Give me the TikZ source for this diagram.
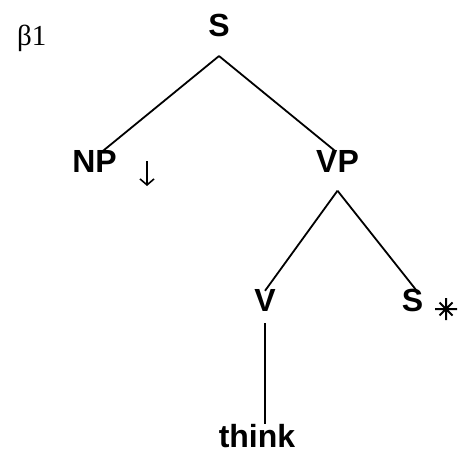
\documentclass[tikz,border=0pt]{standalone}
\usepackage{fontspec}
\setmainfont{Liberation Serif}
\newfontfamily\labfont{Liberation Sans}
\usetikzlibrary{arrows.meta}
\begin{document}
\begin{tikzpicture}[x=1pt,y=-1pt,
  lab/.style={inner sep=0pt, font=\labfont\fontsize{32}{36}\selectfont\bfseries},
  edge/.style={line width=1.8pt, line join=round}]
\useasboundingbox (0,0) rectangle (462,457);
\node[anchor=base west, inner sep=0pt, font=\fontsize{29}{33}\selectfont] (beta) at (17,46) {β1};
\node[lab] (S) at (219,25.5) {S};
\node[lab] (NP) at (94.5,161.5) {NP};
\node[lab] (VP) at (337.5,161.5) {VP};
\node[lab] (V) at (265,300) {V};
\node[lab] (S2) at (412.5,300) {S};
\node[lab] (think) at (257,436.5) {think};
\coordinate (sj) at ([yshift=-19pt]S.south);
\coordinate (vpj) at ([yshift=-18pt]VP.south);
\draw[edge] (sj) -- ([xshift=8pt,yshift=-1pt]NP.north);
\draw[edge] (sj) -- ([xshift=-2pt,yshift=-1pt]VP.north);
\draw[edge] (vpj) -- ([yshift=-2pt]V.north);
\draw[edge] (vpj) -- ([xshift=4pt,yshift=-2pt]S2.north);
\draw[line width=1.4pt] ([yshift=-12pt]V.south) -- ([xshift=8pt,yshift=1pt]think.north);
% substitution arrow
\coordinate (arrtop) at (147,161);
\coordinate (arrbot) at (147,186);
\draw[line width=1.6pt, -{Straight Barb[length=6pt,width=14pt,line width=1.6pt]}] (arrtop) -- (arrbot);
% foot star
\coordinate (star) at (446,309);
\draw[line width=2pt] ([xshift=-11pt]star) -- ([xshift=11pt]star)
  ([yshift=-11pt]star) -- ([yshift=11pt]star)
  ([shift={(-6.5pt,-6.5pt)}]star) -- ([shift={(6.5pt,6.5pt)}]star)
  ([shift={(-6.5pt,6.5pt)}]star) -- ([shift={(6.5pt,-6.5pt)}]star);
\end{tikzpicture}
\end{document}
